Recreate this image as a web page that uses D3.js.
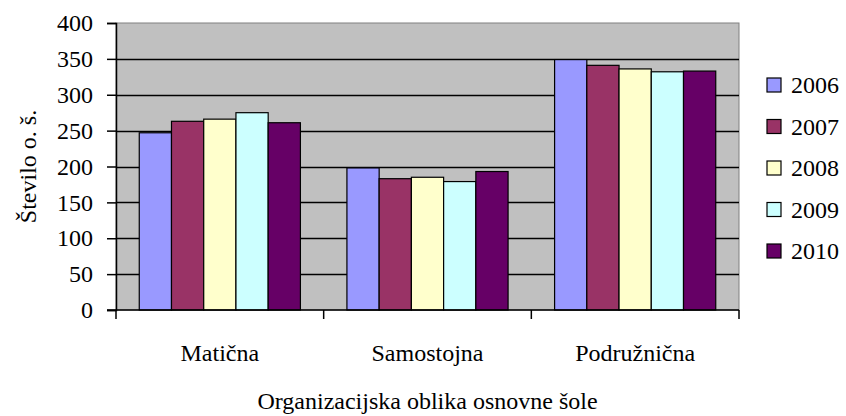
<!DOCTYPE html>
<html>
<head>
<meta charset="utf-8">
<script src="https://cdn.jsdelivr.net/npm/d3@7"></script>
<style>
  body { margin: 0; background: #fff; }
  text { font-family: "Liberation Serif", "Times New Roman", serif; fill: #000; }
</style>
</head>
<body>
<script>
var categories = ["Matična", "Samostojna", "Podružnična"];
var years = ["2006", "2007", "2008", "2009", "2010"];
var colors = ["#9999ff", "#993366", "#ffffcc", "#ccffff", "#660066"];
var v2006 = [247, 198, 349];
var v2007 = [263, 183, 341];
var v2008 = [266, 185, 336];
var v2009 = [275, 179, 332];
var v2010 = [261, 193, 333];
var yTicks = [0, 50, 100, 150, 200, 250, 300, 350, 400];

var series = [v2006, v2007, v2008, v2009, v2010];

var width = 846, height = 416;
var pLeft = 116, pRight = 739, pTop = 23, pBottom = 310;
var fs = "24px";

var svg = d3.select("body").append("svg")
    .attr("width", width)
    .attr("height", height);

var x0 = d3.scaleBand().domain(categories).range([pLeft, pRight])
    .paddingInner(0.224).paddingOuter(0.112);
var x1 = d3.scaleBand().domain(years).range([0, x0.bandwidth()]);
var y = d3.scaleLinear().domain([0, 400]).range([pBottom, pTop]);

// plot area
svg.append("rect")
  .attr("x", pLeft).attr("y", pTop)
  .attr("width", pRight - pLeft).attr("height", pBottom - pTop)
  .attr("fill", "#c0c0c0")
  .attr("stroke", "#808080");

// gridlines
svg.selectAll(".grid").data(yTicks.filter(function(d) { return d > 0 && d < 400; }))
  .enter().append("line")
  .attr("x1", pLeft).attr("x2", pRight)
  .attr("y1", function(d) { return Math.round(y(d)) + 0.5; })
  .attr("y2", function(d) { return Math.round(y(d)) + 0.5; })
  .attr("stroke", "#000").attr("stroke-width", 1.5);

// bars
var groups = svg.selectAll(".cat").data(categories).enter().append("g")
  .attr("transform", function(d) { return "translate(" + x0(d) + ",0)"; });

groups.selectAll("rect")
  .data(function(c, ci) {
    return years.map(function(yr, yi) { return { year: yr, i: yi, value: series[yi][ci] }; });
  })
  .enter().append("rect")
  .attr("x", function(d) { return x1(d.year); })
  .attr("y", function(d) { return y(d.value); })
  .attr("width", x1.bandwidth())
  .attr("height", function(d) { return pBottom - y(d.value); })
  .attr("fill", function(d) { return colors[d.i]; })
  .attr("stroke", "#000").attr("stroke-width", 1.2);

// y axis
var yAxis = d3.axisLeft(y).tickValues(yTicks).tickSize(9).tickPadding(14);
var ya = svg.append("g").attr("transform", "translate(" + pLeft + ",0)").call(yAxis);
ya.select(".domain").attr("stroke", "#000").attr("stroke-width", 1.5);
ya.selectAll(".tick line").attr("stroke", "#000").attr("stroke-width", 1.5);
ya.selectAll("text").style("font-size", fs).style("font-family", "Liberation Serif");

// x axis with ticks at category boundaries
svg.append("line")
  .attr("x1", pLeft - 9).attr("x2", pRight)
  .attr("y1", pBottom).attr("y2", pBottom)
  .attr("stroke", "#000").attr("stroke-width", 1.5);
var bounds = [pLeft].concat(categories.map(function(c) { return x0(c) + x0.bandwidth() + x0.step() * 0.112; }));
svg.selectAll(".xt").data(bounds).enter().append("line")
  .attr("x1", function(d) { return d; }).attr("x2", function(d) { return d; })
  .attr("y1", pBottom).attr("y2", pBottom + 9)
  .attr("stroke", "#000").attr("stroke-width", 1.5);
svg.selectAll(".xl").data(categories).enter().append("text")
  .attr("x", function(d) { return x0(d) + x0.bandwidth() / 2; })
  .attr("y", 361)
  .attr("text-anchor", "middle")
  .style("font-size", fs)
  .text(function(d) { return d; });

// axis titles
svg.append("text")
  .attr("x", (pLeft + pRight) / 2).attr("y", 409)
  .attr("text-anchor", "middle")
  .style("font-size", fs)
  .text("Organizacijska oblika osnovne šole");

svg.append("text")
  .attr("transform", "translate(36," + ((pTop + pBottom) / 2) + ") rotate(-90)")
  .attr("text-anchor", "middle")
  .style("font-size", fs)
  .text("Število o. š.");

// legend
var leg = svg.selectAll(".leg").data(years).enter().append("g")
  .attr("transform", function(d, i) { return "translate(767," + (78 + i * 41.5) + ")"; });
leg.append("rect")
  .attr("width", 14).attr("height", 14)
  .attr("fill", function(d, i) { return colors[i]; })
  .attr("stroke", "#000").attr("stroke-width", 1.2);
leg.append("text")
  .attr("x", 24).attr("y", 15)
  .style("font-size", fs)
  .text(function(d) { return d; });
</script>
</body>
</html>
